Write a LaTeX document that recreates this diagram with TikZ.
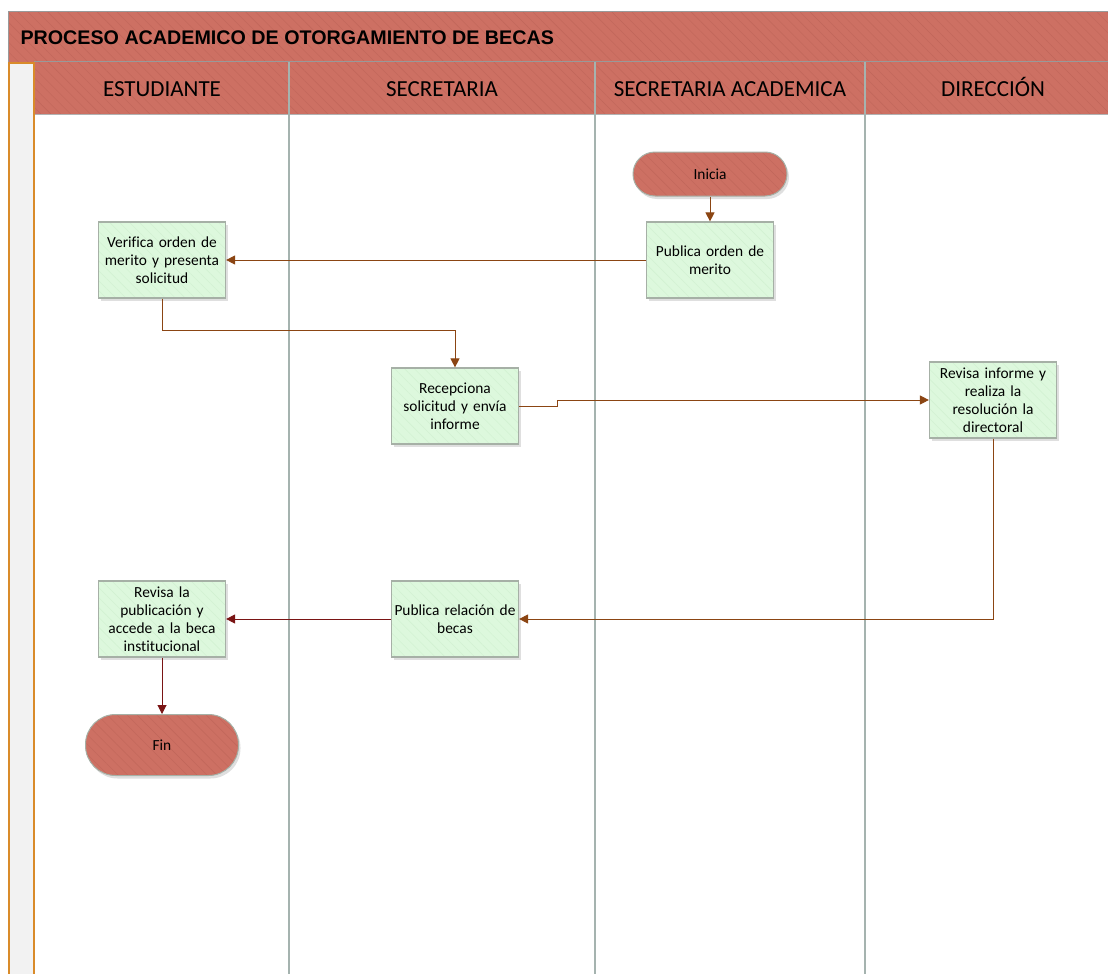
\documentclass[tikz,border=0pt]{standalone}
\usepackage{fontspec}
\setmainfont[Ligatures=NoCommon]{Carlito}
\newfontfamily\titlefont{Liberation Sans}
\usetikzlibrary{arrows.meta,patterns.meta,shadows}
\definecolor{hdr}{HTML}{CD7063}
\definecolor{hdrline}{HTML}{C0665A}
\definecolor{boxfill}{HTML}{DDF8DD}
\definecolor{boxline}{HTML}{A6B0A6}
\definecolor{lanel}{HTML}{A5B3AF}
\definecolor{strip}{HTML}{F2F2F2}
\definecolor{stripl}{HTML}{D98B2A}
\definecolor{brownc}{HTML}{8B4513}
\definecolor{redc}{HTML}{7A1414}
\definecolor{boxhatch}{HTML}{D0F0D0}
\tikzset{
  hatchred/.style={preaction={fill=hdr},pattern={Lines[angle=-45,distance=7pt,line width=0.4pt]},pattern color=hdrline},
  hatchgreen/.style={preaction={fill=boxfill},pattern={Lines[angle=-45,distance=7pt,line width=0.4pt]},pattern color=boxhatch},
  procbox/.style={drop shadow={shadow xshift=2pt,shadow yshift=-3pt,opacity=0.25},
    draw=boxline,line width=1.2pt,hatchgreen,minimum width=127pt,minimum height=76pt,
    text width=124pt,align=center,font=\fontsize{15.4}{18}\selectfont,inner sep=0pt},
  termbox/.style={drop shadow={shadow xshift=2pt,shadow yshift=-3pt,opacity=0.25},
    draw=boxline,line width=1pt,hatchred,align=center,font=\fontsize{15.4}{18}\selectfont,inner sep=0pt},
  lanehead/.style={font=\fontsize{23}{27}\selectfont,anchor=base},
  flowb/.style={draw=brownc,line width=1pt,-{Triangle[length=9pt,width=9pt]}},
  flowr/.style={draw=redc,line width=1pt,-{Triangle[length=9pt,width=9pt]}},
}
\begin{document}
\begin{tikzpicture}[x=1pt,y=-1pt]
\useasboundingbox (0,0) rectangle (1108,974);
\clip (0,0) rectangle (1108,974);
% title bar
\path[hatchred] (8,12) rectangle (1120,62);
\draw[gray!80,line width=1pt] (8,62) -- (8,12) -- (1120,12);
\node[anchor=west,font=\titlefont\bfseries\fontsize{19.7}{23}\selectfont] (title) at (17,38) {PROCESO ACADEMICO DE OTORGAMIENTO DE BECAS};
% header row
\path[hatchred] (34,62) rectangle (1120,114);
\draw[gray!80,line width=1pt] (34,62) -- (1120,62);
\draw[gray!60,line width=1pt] (34,114) -- (1120,114);
% left strip
\draw[stripl,fill=strip,line width=1.8pt] (9,980) -- (9,63) -- (34,63) -- (34,980);
% lane dividers
\foreach \xx in {289,595,865} {
  \draw[lanel,line width=1.2pt] (\xx,62) -- (\xx,980);
}
% lane headers
\node[lanehead] (l1) at (162,96) {ESTUDIANTE};
\node[lanehead] (l2) at (442,96) {SECRETARIA};
\node[lanehead] (l3) at (730,96) {SECRETARIA ACADEMICA};
\node[lanehead] (l4) at (993,96) {DIRECCIÓN};
% nodes
\node[termbox,minimum width=154pt,minimum height=44pt,rounded corners=22pt] (ini) at (710,174) {Inicia};
\node[procbox] (pub) at (710,260) {Publica orden de\\merito};
\node[procbox] (ver) at (162,260) {Verifica orden de\\merito y presenta\\solicitud};
\node[procbox] (rec) at (455,406) {Recepciona\\solicitud y envía\\informe};
\node[procbox] (rev) at (993,400) {Revisa informe y\\realiza la\\resolución la\\directoral};
\node[procbox] (prb) at (455,619) {Publica relación de\\becas};
\node[procbox] (rpb) at (162,619) {Revisa la\\publicación y\\accede a la beca\\institucional};
\node[termbox,minimum width=153pt,minimum height=61pt,rounded corners=30pt] (fin) at (162,745) {Fin};
% connectors
\draw[flowb] (ini.south) -- (pub.north);
\draw[flowb] (pub.west) -- (ver.east);
\draw[flowb] (ver.south) -- ++(0,32) -| (rec.north);
\draw[flowb] (rec.east) -- ++(38,0) |- (rev.west);
\draw[flowb] (rev.south) |- (prb.east);
\draw[flowr] (prb.west) -- (rpb.east);
\draw[flowr] (rpb.south) -- (fin.north);
\end{tikzpicture}
\end{document}
